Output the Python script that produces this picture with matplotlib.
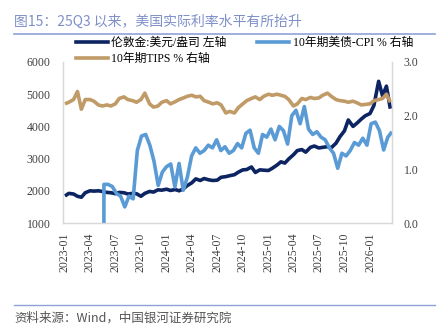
import numpy as np
import pandas as pd
import matplotlib
matplotlib.use("Agg")
import matplotlib.pyplot as plt
import matplotlib.dates as mdates
from matplotlib.lines import Line2D

# ---- data (semi-monthly / 15-day samples) ----
gold = [1840, 1920, 1900, 1830, 1800, 1940, 2000, 1990, 2000, 1980, 1950, 1940,
        1910, 1950, 1940, 1900, 1920, 1910, 1830, 1920, 1980, 1960, 2030, 2020,
        2050, 2010, 2040, 2000, 2060, 2160, 2250, 2370, 2320, 2380, 2340, 2320,
        2330, 2420, 2440, 2470, 2500, 2580, 2650, 2660, 2740, 2570, 2650, 2640,
        2630, 2700, 2800, 2900, 2860, 2990, 3120, 3250, 3280, 3200, 3350, 3390,
        3330, 3350, 3370, 3340, 3480, 3680, 3860, 4200, 4000, 4100, 4230, 4330,
        4400, 4650, 5400, 4950, 5250, 4550]

tips = [2.22, 2.25, 2.30, 2.45, 2.12, 2.30, 2.30, 2.27, 2.20, 2.18, 2.20, 2.18,
        2.22, 2.32, 2.35, 2.30, 2.28, 2.25, 2.30, 2.42, 2.22, 2.16, 2.18, 2.25,
        2.28, 2.22, 2.26, 2.30, 2.33, 2.36, 2.38, 2.35, 2.36, 2.28, 2.25, 2.22,
        2.24, 2.20, 2.05, 2.08, 2.05, 2.15, 2.22, 2.28, 2.32, 2.35, 2.30, 2.36,
        2.40, 2.38, 2.40, 2.38, 2.36, 2.30, 2.18, 2.22, 2.32, 2.30, 2.34, 2.32,
        2.33, 2.38, 2.42, 2.36, 2.30, 2.28, 2.27, 2.25, 2.27, 2.24, 2.20, 2.21,
        2.22, 2.28, 2.30, 2.32, 2.40, 2.25]

# 10Y minus CPI, series begins 2023-05-21 (first reading 0.0)
real_cpi = [0.0,
            0.72, 0.72, 0.68, 0.55, 0.50, 0.30, 0.50, 0.45, 1.35, 1.62,
            1.65, 1.45, 1.15, 0.70, 0.95, 1.05, 1.10, 0.67, 1.11, 0.61,
            0.86, 1.25, 1.40, 1.30, 1.35, 1.45, 1.40, 1.55, 1.35, 1.42,
            1.30, 1.35, 1.48, 1.40, 1.67, 1.73, 1.40, 1.30, 1.65, 1.60,
            1.75, 1.55, 1.80, 1.72, 1.47, 2.00, 2.10, 1.85, 2.17, 1.75,
            1.65, 1.70, 1.60, 1.55, 1.40, 1.30, 1.02, 1.30, 1.25, 1.35,
            1.50, 1.45, 1.58, 1.45, 1.85, 1.88, 1.72, 1.36, 1.60, 1.70]

labels = ["伦敦金:美元/盎司 左轴", "10年期TIPS % 右轴", "10年期美债-CPI % 右轴"]
title = "图15：25Q3 以来，美国实际利率水平有所抬升"
source = "资料来源：Wind，中国银河证券研究院"

gold_dates = pd.date_range("2023-01-01", periods=len(gold), freq="SMS")
tips_dates = pd.date_range("2023-01-01", periods=len(tips), freq="SMS")
cpi_dates = pd.date_range("2023-05-21", periods=len(real_cpi) - 1, freq="15D")
cpi_dates = cpi_dates.insert(0, cpi_dates[0])

c_gold = "#0C2461"
c_cpi = "#5B9BD5"
c_tips = "#C09A67"
serif = ["Liberation Serif", "Noto Sans CJK SC"]
cjk = ["Noto Sans CJK SC", "DejaVu Sans"]

fig = plt.figure(figsize=(4.4, 3.34), dpi=100)
ax = fig.add_axes([63 / 440, 1 - 223 / 334, (392 - 63) / 440, (223 - 62) / 334])
ax2 = ax.twinx()

ax.plot(gold_dates, gold, color=c_gold, lw=2.6, solid_capstyle="butt")
ax2.plot(tips_dates, tips, color=c_tips, lw=2.6, solid_capstyle="butt")
ax2.plot(cpi_dates, real_cpi, color=c_cpi, lw=2.6, solid_capstyle="butt")

ax.set_ylim(1000, 6000)
ax.set_yticks(np.arange(1000, 6001, 1000))
ax2.set_ylim(0, 3)
ax2.set_yticks([0, 1, 2, 3])
ax2.yaxis.set_major_formatter(matplotlib.ticker.FormatStrFormatter("%.1f"))
ax.set_xlim(pd.Timestamp("2022-12-25"), pd.Timestamp("2026-03-21"))
ax.xaxis.set_major_locator(mdates.MonthLocator(bymonth=[1, 4, 7, 10]))
ax.xaxis.set_major_formatter(mdates.DateFormatter("%Y-%m"))

for a in (ax, ax2):
    for s in a.spines.values():
        s.set_color("#D9D9D9")
        s.set_linewidth(0.9)
    a.spines["top"].set_visible(False)
    a.tick_params(length=0, labelsize=8.5, colors="#404040")
    for t in a.get_xticklabels() + a.get_yticklabels():
        t.set_fontfamily(serif)
ax.tick_params(axis="y", pad=9)
ax2.tick_params(axis="y", pad=8.5)
ax.tick_params(axis="x", pad=7)
for t in ax.get_xticklabels():
    t.set_rotation(90)

handles = [Line2D([], [], color=c_gold, lw=2.6),
           Line2D([], [], color=c_tips, lw=2.6),
           Line2D([], [], color=c_cpi, lw=2.6)]
fig.legend(handles, labels, loc="upper left", bbox_to_anchor=(76 / 440, 1 - 37 / 334),
           ncol=2, frameon=False, prop={"family": serif, "size": 8.5},
           handlelength=2.7, handletextpad=0.3, columnspacing=2.6,
           labelspacing=0.35, borderpad=0, borderaxespad=0)

fig.text(14 / 440, 1 - 22 / 334, title, fontsize=10, color="#7F90C8",
         family=cjk, fontweight="light", va="center", ha="left")
fig.add_artist(Line2D([14 / 440, 435 / 440], [1 - 34 / 334] * 2, color="#8EA2D4", lw=1.2))
fig.add_artist(Line2D([14 / 440, 435 / 440], [1 - 305 / 334] * 2, color="#8EA2D4", lw=1.0))
fig.text(14 / 440, 1 - 318 / 334, source, fontsize=9, color="#555555",
         family=cjk, style="italic", fontweight="light", va="center", ha="left")

fig.savefig("out.png", dpi=100)
